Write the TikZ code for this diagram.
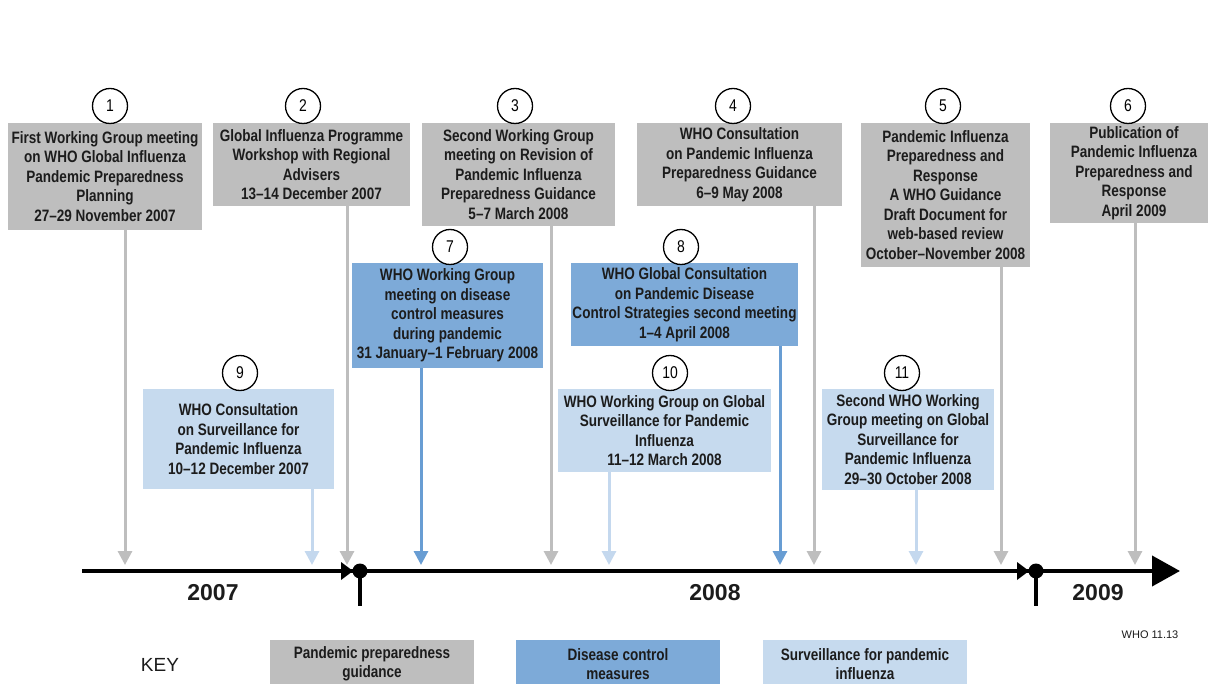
\documentclass[tikz,border=0pt]{standalone}
\usepackage{fontspec}
\setmainfont{Liberation Sans}
\newfontfamily\cond[FakeStretch=0.82]{Liberation Sans}
\usetikzlibrary{arrows.meta}
\definecolor{gfill}{RGB}{190,190,190}
\definecolor{bfill}{RGB}{125,170,216}
\definecolor{lfill}{RGB}{198,218,238}
\definecolor{gline}{RGB}{190,190,190}
\definecolor{bline}{RGB}{104,157,211}
\definecolor{lline}{RGB}{196,216,238}
\definecolor{ink}{RGB}{28,28,28}
\begin{document}
\begin{tikzpicture}[x=1pt,y=-1pt,
  evbox/.style={inner sep=0pt, align=center, text=ink,
    font=\cond\bfseries\fontsize{16.5}{19.5}\selectfont},
  gbox/.style={evbox, fill=gfill},
  bbox/.style={evbox, fill=bfill},
  lbox/.style={evbox, fill=lfill},
  num/.style={circle, draw=black, line width=1.3pt, fill=white, minimum size=35pt,
    inner sep=0pt, text=black, font=\cond\fontsize{17}{17}\selectfont},
  conn/.style={line width=3pt, -{Triangle[width=14pt,length=14pt]}},
  gconn/.style={conn, draw=gline, fill=gline},
  bconn/.style={conn, draw=bline, fill=bline},
  lconn/.style={conn, draw=lline, fill=lline},
  yearlbl/.style={font=\bfseries\fontsize{23}{23}\selectfont, text=ink},
  marker/.style={circle, fill=black, minimum size=15pt, inner sep=0pt},
]
\useasboundingbox (0,0) rectangle (1208,684);
\clip (0,0) rectangle (1208,684);
\fill[white] (0,0) rectangle (1208,684);

% event boxes
\node[gbox, minimum width=194pt, minimum height=107pt] (b1) at (105,176.5)
  {First Working Group meeting\\on WHO Global Influenza\\Pandemic Preparedness\\Planning\\27–29 November 2007};
\node[gbox, minimum width=197pt, minimum height=83pt] (b2) at (311.5,164.5)
  {Global Influenza Programme\\Workshop with Regional\\Advisers\\13–14 December 2007};
\node[gbox, minimum width=193pt, minimum height=103pt] (b3) at (518.5,174.5)
  {Second Working Group\\meeting on Revision of\\Pandemic Influenza\\Preparedness Guidance\\5–7 March 2008};
\node[gbox, minimum width=205pt, minimum height=83pt] (b4) at (739.5,164.5)
  {WHO Consultation\\on Pandemic Influenza\\Preparedness Guidance\\6–9 May 2008};
\node[gbox, minimum width=169pt, minimum height=144pt] (b5) at (945.5,195)
  {Pandemic Influenza\\Preparedness and\\Response\\A WHO Guidance\\Draft Document for\\web-based review\\October–November 2008};
\node[gbox, minimum width=168pt, minimum height=100pt] (b6) at (1134,173)
  {Publication of\\Pandemic Influenza\\Preparedness and\\Response\\April 2009};
\node[bbox, minimum width=191pt, minimum height=105pt] (b7) at (447.5,315.5)
  {WHO Working Group\\meeting on disease\\control measures\\during pandemic\\31 January–1 February 2008};
\node[bbox, minimum width=227pt, minimum height=83pt] (b8) at (684.5,304.5)
  {WHO Global Consultation\\on Pandemic Disease\\Control Strategies second meeting\\1–4 April 2008};
\node[lbox, minimum width=191pt, minimum height=100pt] (b9) at (238.5,439)
  {WHO Consultation\\on Surveillance for\\Pandemic Influenza\\10–12 December 2007};
\node[lbox, minimum width=213pt, minimum height=83pt] (b10) at (664.5,430.5)
  {WHO Working Group on Global\\Surveillance for Pandemic\\Influenza\\11–12 March 2008};
\node[lbox, minimum width=172pt, minimum height=101pt] (b11) at (908,439.5)
  {Second WHO Working\\Group meeting on Global\\Surveillance for\\Pandemic Influenza\\29–30 October 2008};

% number circles
\node[num] (n1) at (110,106) {1};
\node[num] (n2) at (303,106) {2};
\node[num] (n3) at (515,106) {3};
\node[num] (n4) at (733,106) {4};
\node[num] (n5) at (943,106) {5};
\node[num] (n6) at (1128,106) {6};
\node[num] (n7) at (450,247) {7};
\node[num] (n8) at (681,247) {8};
\node[num] (n9) at (240,373) {9};
\node[num] (n10) at (670,373) {10};
\node[num] (n11) at (902,373) {11};

% arrow targets on the time line
\coordinate (t1) at (125,565);
\coordinate (t2) at (347,565);
\coordinate (t3) at (551,565);
\coordinate (t4) at (814,565);
\coordinate (t5) at (1001,565);
\coordinate (t6) at (1135,565);
\coordinate (t7) at (421,565);
\coordinate (t8) at (780,565);
\coordinate (t9) at (312,565);
\coordinate (t10) at (609,565);
\coordinate (t11) at (916,565);

\draw[gconn] (b1.south -| t1) -- (t1);
\draw[gconn] (b2.south -| t2) -- (t2);
\draw[gconn] (b3.south -| t3) -- (t3);
\draw[gconn] (b4.south -| t4) -- (t4);
\draw[gconn] (b5.south -| t5) -- (t5);
\draw[gconn] (b6.south -| t6) -- (t6);
\draw[bconn] (b7.south -| t7) -- (t7);
\draw[bconn] (b8.south -| t8) -- (t8);
\draw[lconn] (b9.south -| t9) -- (t9);
\draw[lconn] (b10.south -| t10) -- (t10);
\draw[lconn] (b11.south -| t11) -- (t11);

% time axis
\coordinate (ax0) at (82,571);
\coordinate (ax1) at (1180,571);
\draw[line width=4pt, -{Triangle[width=30pt,length=28pt]}] (ax0) -- (ax1);
\node[marker] (m1) at (360,571) {};
\node[marker] (m2) at (1036,571) {};
\coordinate (s1) at (360,606);
\coordinate (s2) at (1036,606);
\draw[line width=4pt] (m1.center) -- (s1);
\draw[line width=4pt] (m2.center) -- (s2);
\fill (341,562) -- (353,571) -- (341,580) -- cycle;
\fill (1017,562) -- (1029,571) -- (1017,580) -- cycle;

\node[yearlbl] (y7) at (213,593) {2007};
\node[yearlbl] (y8) at (715,593) {2008};
\node[yearlbl] (y9) at (1098,593) {2009};

\node[font=\fontsize{11}{11}\selectfont, text=ink] (who) at (1150,635) {WHO 11.13};

% key
\node[font=\fontsize{19}{19}\selectfont, text=ink] (key) at (160,665) {KEY};
\node[gbox, minimum width=204pt, minimum height=48pt] (k1) at (372,664)
  {Pandemic preparedness\\guidance};
\node[bbox, minimum width=204pt, minimum height=48pt] (k2) at (618,664)
  {Disease control\\measures};
\node[lbox, minimum width=204pt, minimum height=48pt] (k3) at (865,664)
  {Surveillance for pandemic\\influenza};
\end{tikzpicture}
\end{document}
